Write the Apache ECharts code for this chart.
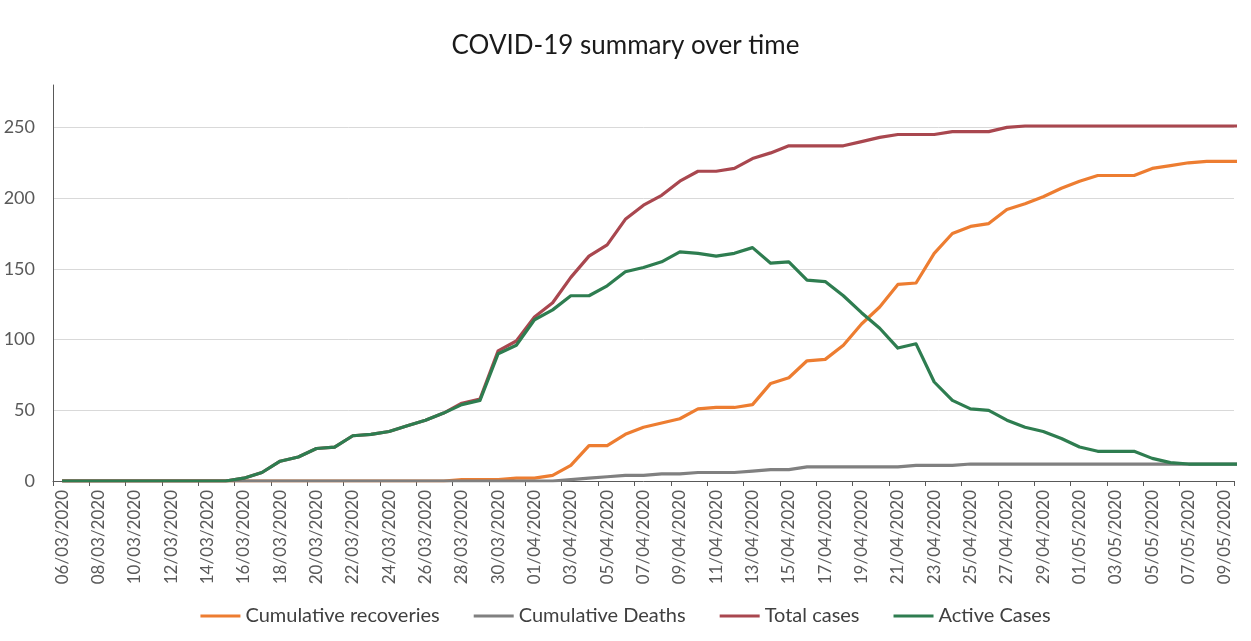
<!DOCTYPE html>
<html>
<head>
<meta charset="utf-8">
<script src="https://cdn.jsdelivr.net/npm/echarts@6/dist/echarts.min.js"></script>
<style>
  html, body { margin: 0; padding: 0; background: #ffffff; }
  #chart { width: 1251px; height: 641px; }
</style>
</head>
<body>
<div id="chart"></div>
<script>
// Dates 06/03/2020 .. 10/05/2020 (the last one falls just past the axis end)
const dates = [
  '06/03/2020','07/03/2020','08/03/2020','09/03/2020','10/03/2020','11/03/2020','12/03/2020','13/03/2020',
  '14/03/2020','15/03/2020','16/03/2020','17/03/2020','18/03/2020','19/03/2020','20/03/2020','21/03/2020',
  '22/03/2020','23/03/2020','24/03/2020','25/03/2020','26/03/2020','27/03/2020','28/03/2020','29/03/2020',
  '30/03/2020','31/03/2020','01/04/2020','02/04/2020','03/04/2020','04/04/2020','05/04/2020','06/04/2020',
  '07/04/2020','08/04/2020','09/04/2020','10/04/2020','11/04/2020','12/04/2020','13/04/2020','14/04/2020',
  '15/04/2020','16/04/2020','17/04/2020','18/04/2020','19/04/2020','20/04/2020','21/04/2020','22/04/2020',
  '23/04/2020','24/04/2020','25/04/2020','26/04/2020','27/04/2020','28/04/2020','29/04/2020','30/04/2020',
  '01/05/2020','02/05/2020','03/05/2020','04/05/2020','05/05/2020','06/05/2020','07/05/2020','08/05/2020',
  '09/05/2020','10/05/2020'
];
const lastShownDate = '09/05/2020';

const recoveries = [
  0,0,0,0,0,0,0,0, 0,0,0,0,0,0,0,0, 0,0,0,0,0,0,1,1,
  1,2,2,4,11,25,25,33, 38,41,44,51,52,52,54,69,
  73,85,86,96,111,123,139,140, 161,175,180,182,192,196,201,207,
  212,216,216,216,221,223,225,226, 226,226
];
const deaths = [
  0,0,0,0,0,0,0,0, 0,0,0,0,0,0,0,0, 0,0,0,0,0,0,0,0,
  0,0,0,0,1,2,3,4, 4,5,5,6,6,6,7,8,
  8,10,10,10,10,10,10,11, 11,11,12,12,12,12,12,12,
  12,12,12,12,12,12,12,12, 12,12
];
const totalCases = [
  0,0,0,0,0,0,0,0, 0,0,2,6,14,17,23,24, 32,33,35,39,43,48,55,58,
  92,99,116,126,144,159,167,185, 195,202,212,219,219,221,228,232,
  237,237,237,237,240,243,245,245, 245,247,247,247,250,251,251,251,
  251,251,251,251,251,251,251,251, 251,251
];
const activeCases = [
  0,0,0,0,0,0,0,0, 0,0,2,6,14,17,23,24, 32,33,35,39,43,48,54,57,
  90,96,114,121,131,131,138,148, 151,155,162,161,159,161,165,154,
  155,142,141,131,119,108,94,97, 70,57,51,50,43,38,35,30,
  24,21,21,21,16,13,12,12, 12,12
];

const seriesNames = ['Cumulative recoveries', 'Cumulative Deaths', 'Total cases', 'Active Cases'];
const seriesColors = ['#ED7D31', '#808080', '#A9474F', '#2E7D50'];
const seriesData = [recoveries, deaths, totalCases, activeCases];

const yTicks = { min: 0, max: 280, interval: 50 };

const FONT = 'Lato';
const axisColor = '#595959';

const chart = echarts.init(document.getElementById('chart'), null, { renderer: 'canvas' });

chart.setOption({
  animation: false,
  backgroundColor: '#ffffff',
  title: {
    text: 'COVID-19 summary over time',
    left: 'center',
    top: 28,
    textStyle: { fontFamily: FONT, fontSize: 26, fontWeight: 'normal', color: '#1a1a1a' }
  },
  legend: {
    data: seriesNames,
    left: 'center',
    top: 601,
    itemWidth: 40,
    itemHeight: 10,
    itemGap: 34,
    icon: 'path://M0,4 L40,4 L40,7 L0,7 Z',
    textStyle: { fontFamily: FONT, fontSize: 20, color: '#404040' }
  },
  grid: { left: 53, right: 17, top: 85, bottom: 160, containLabel: false },
  xAxis: {
    type: 'category',
    data: dates,
    max: dates.indexOf(lastShownDate),
    boundaryGap: true,
    axisLine: { show: true, lineStyle: { color: axisColor, width: 1 } },
    axisTick: { show: true, interval: 1, length: 5, lineStyle: { color: axisColor } },
    axisLabel: {
      interval: 1,
      rotate: 90,
      margin: 9,
      fontFamily: FONT,
      fontSize: 17,
      color: axisColor
    },
    splitLine: { show: false }
  },
  yAxis: {
    type: 'value',
    min: yTicks.min,
    max: yTicks.max,
    interval: yTicks.interval,
    axisLine: { show: true, lineStyle: { color: axisColor, width: 1 } },
    axisTick: { show: false },
    axisLabel: { margin: 18, fontFamily: FONT, fontSize: 18, color: axisColor, showMaxLabel: false },
    splitLine: { show: true, showMaxLine: false, showMinLine: false, lineStyle: { color: '#D9D9D9', width: 1 } }
  },
  series: seriesNames.map((name, k) => ({
    name: name,
    type: 'line',
    data: seriesData[k],
    symbol: 'none',
    smooth: false,
    clip: true,
    color: seriesColors[k],
    lineStyle: { width: 3.2, color: seriesColors[k], cap: 'butt', join: 'round' }
  }))
});
</script>
</body>
</html>
